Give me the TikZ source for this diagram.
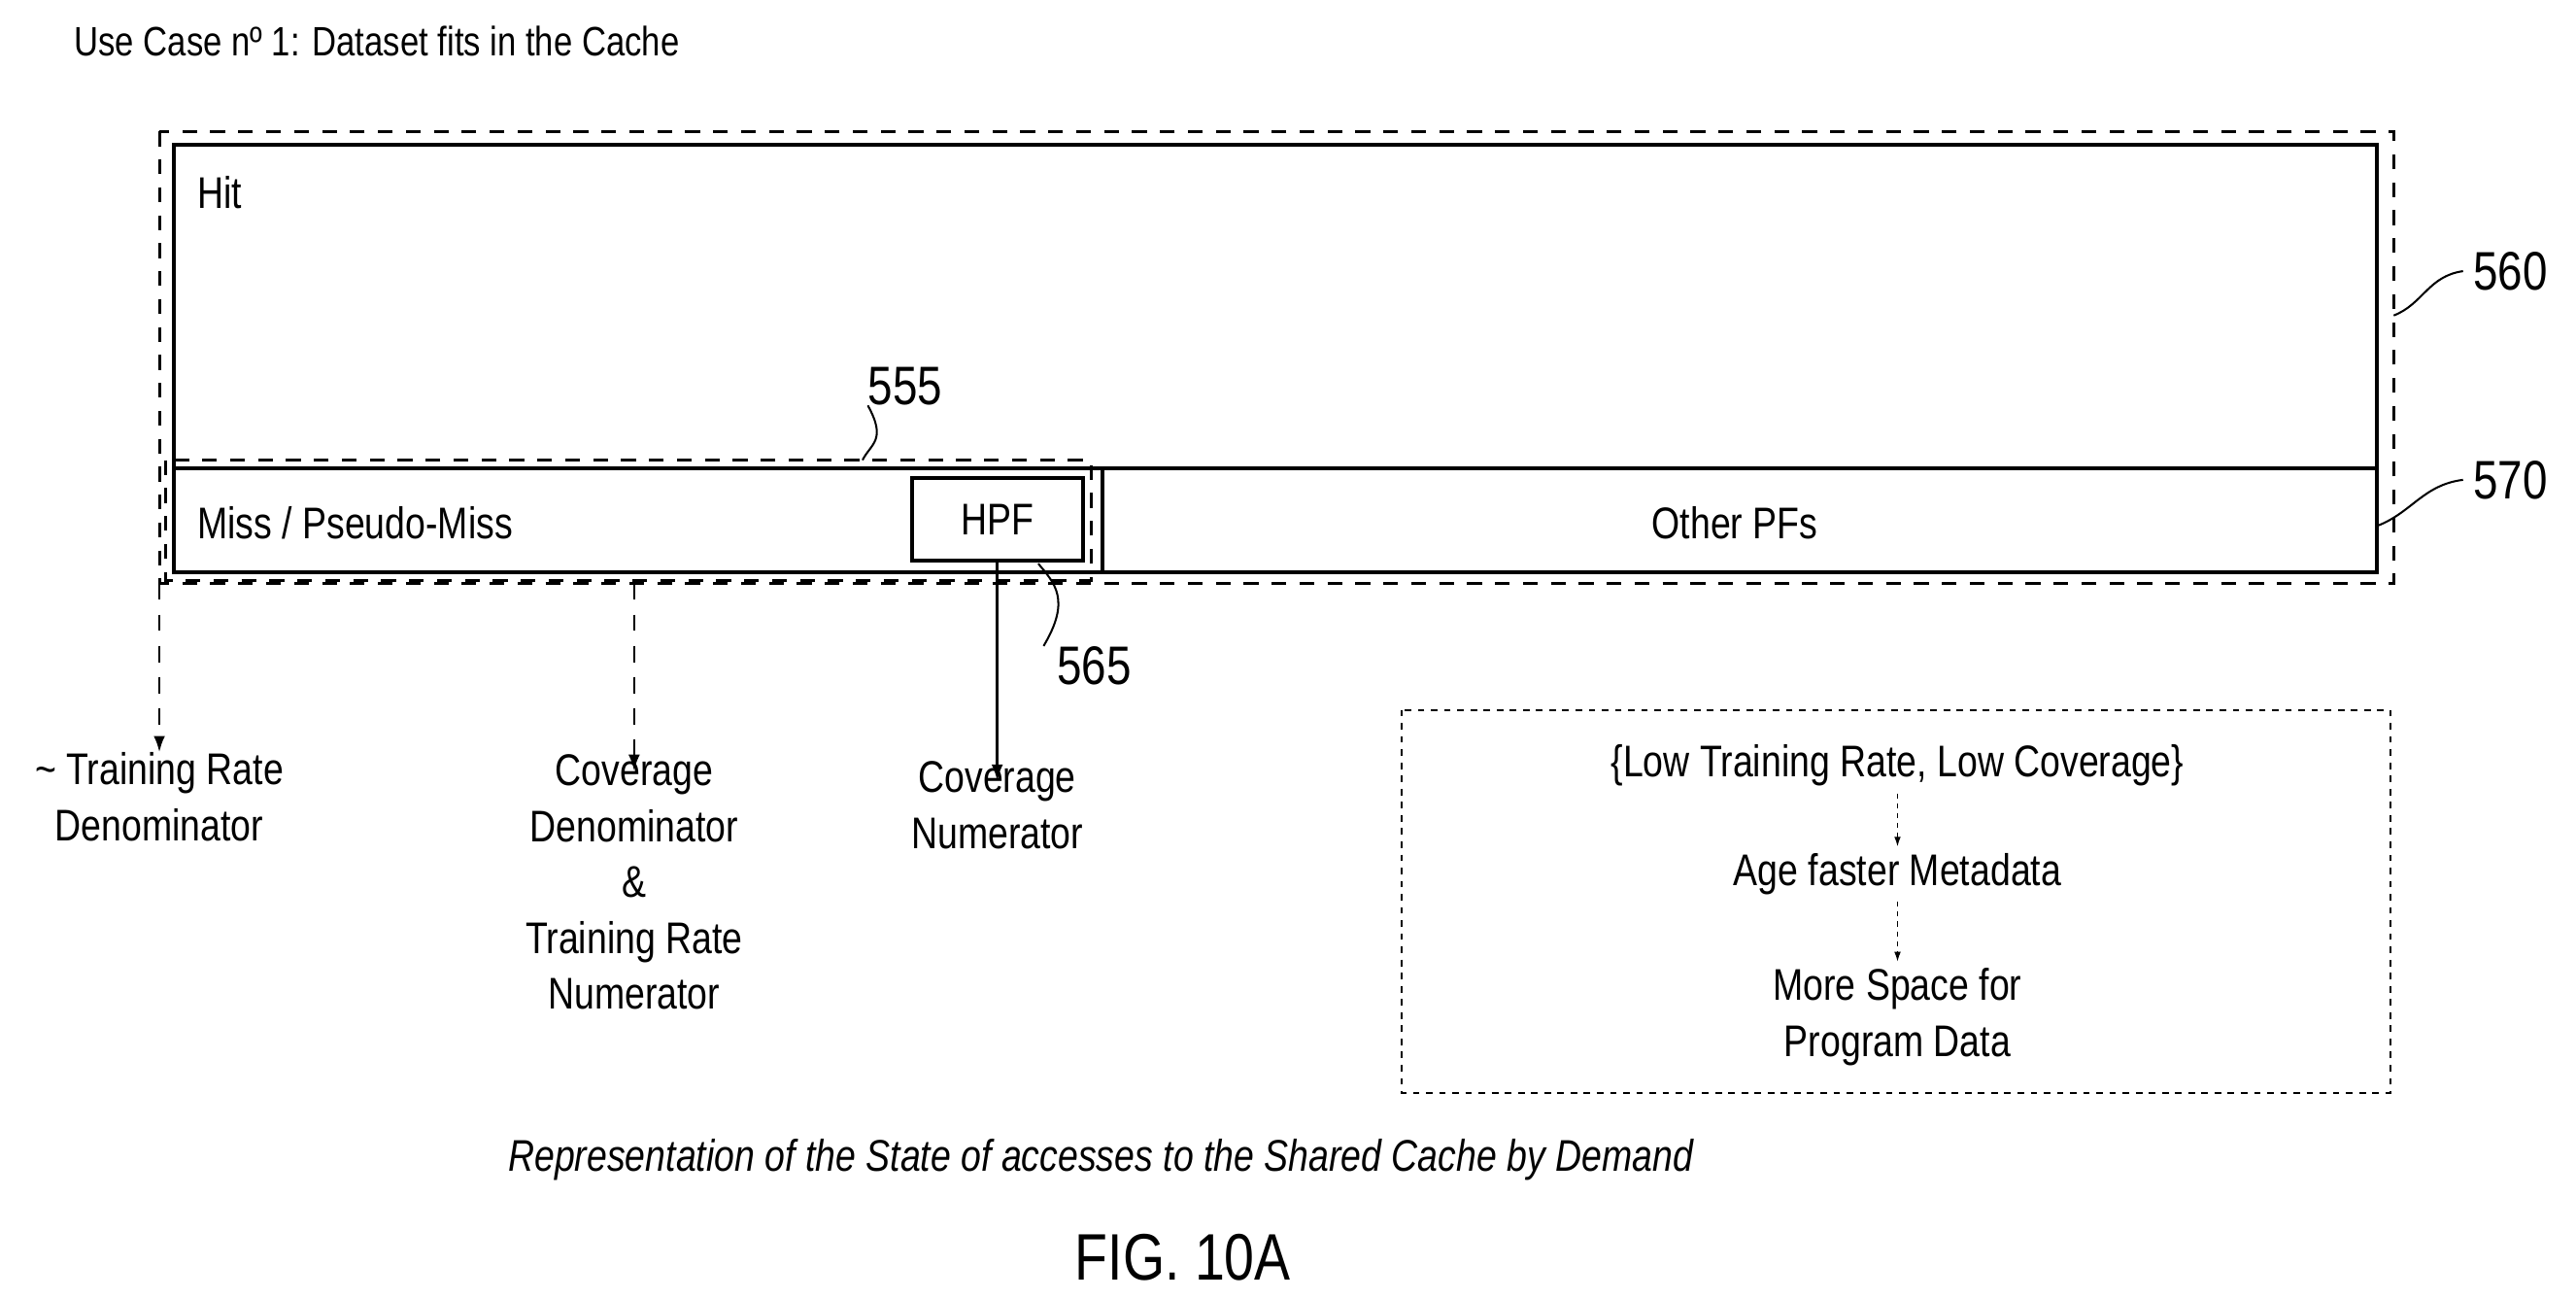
\documentclass[tikz,border=0pt]{standalone}
\usepackage{fontspec}
\setmainfont{Liberation Sans}[FakeStretch=0.82]
\usetikzlibrary{arrows.meta,positioning}
\tikzset{>={Latex[length=10pt,width=7pt]}}
\tikzset{
  lbl/.style = {inner sep=0pt, font=\fontsize{27}{34}\selectfont, align=center},
  refnum/.style = {inner sep=0pt, font=\fontsize{33}{38}\selectfont},
  dbox/.style = {draw, line width=1.8pt, dash pattern=on 9pt off 8pt},
  sbox/.style = {draw, line width=2.4pt},
  lead/.style = {draw, line width=1.2pt}
}
\begin{document}
\begin{tikzpicture}[x=1pt,y=-1pt]
  \useasboundingbox (0,0) rectangle (1568,790);

  \node[lbl, anchor=west, font=\fontsize{25}{30}\selectfont] (title) at (45,25) {Use Case nº 1: Dataset fits in the Cache};

  % cache state
  \draw[dbox] (97,80) rectangle (1457,355);
  \draw[sbox] (106,88) rectangle (1447,348);
  \draw[sbox] (106,285) -- (1447,285);
  \draw[sbox] (671,285) -- (671,348);
  \draw[dbox] (101,280) rectangle (664,353);
  \node[sbox, minimum width=104pt, minimum height=50pt, inner sep=0pt] (hpf) at (607,316) {};
  \node[lbl] at (hpf) {HPF};

  \node[lbl, anchor=west] (hit) at (120,117) {Hit};
  \node[lbl, anchor=west] (miss) at (120,318) {Miss / Pseudo-Miss};
  \node[lbl] (other) at (1056,318) {Other PFs};

  % reference numerals
  \node[refnum] (n555) at (551,235) {555};
  \node[refnum] (n565) at (666,405) {565};
  \node[refnum] (n560) at (1528,165) {560};
  \node[refnum] (n570) at (1528,292) {570};
  \coordinate (c555) at (525,280);
  \coordinate (c565) at (632,343);
  \coordinate (c560) at (1457,192);
  \coordinate (c570) at (1447,320);
  \draw[lead] (c555) .. controls (530,270) and (540,268) .. (n555.south west);
  \draw[lead] (c565) .. controls (642,355) and (652,365) .. ([xshift=-8pt]n565.north west);
  \draw[lead] (c560) .. controls (1475,185) and (1478,168) .. ([xshift=-6pt]n560.west);
  \draw[lead] (c570) .. controls (1468,312) and (1475,295) .. ([xshift=-6pt]n570.west);

  % counters
  \node[lbl] (trd) at (97,485) {\textasciitilde\ Training Rate\\Denominator};
  \node[lbl] (cov) at (386,537) {Coverage\\Denominator\\\&\\Training Rate\\Numerator};
  \node[lbl] (cnum) at (607,490) {Coverage\\Numerator};
  \coordinate (t1) at (97,355);
  \coordinate (t2) at (386,355);
  \draw[->, line width=1.6pt, dash pattern=on 10pt off 9pt] (t1) -- (trd.north -| t1);
  \draw[->, line width=1.6pt, dash pattern=on 10pt off 9pt] (t2) -- ([yshift=-10pt]cov.north);
  \draw[->, line width=1.4pt] (hpf.south) -- ([yshift=-12pt]cnum.north);

  % policy box
  \draw[line width=1.3pt, dash pattern=on 4pt off 4pt] (853,432) rectangle (1455,665);
  \node[lbl] (low) at (1155,466) {\{Low Training Rate, Low Coverage\}};
  \node[lbl] (age) at (1155,532) {Age faster Metadata};
  \node[lbl] (space) at (1155,619) {More Space for\\Program Data};
  \draw[->, line width=0.8pt, dash pattern=on 3pt off 3pt, >={Latex[length=6pt,width=4pt]}] ([yshift=-4pt]low.south) -- ([yshift=4pt]age.north);
  \draw[->, line width=0.8pt, dash pattern=on 3pt off 3pt, >={Latex[length=6pt,width=4pt]}] ([yshift=-4pt]age.south) -- ([yshift=4pt]space.north);

  \node[lbl, font=\fontsize{27}{34}\selectfont\itshape] (cap) at (670,706) {Representation of the State of accesses to the Shared Cache by Demand};
  \node[lbl, font=\fontsize{40}{44}\selectfont] (fig) at (720,765) {FIG. 10A};
\end{tikzpicture}
\end{document}
